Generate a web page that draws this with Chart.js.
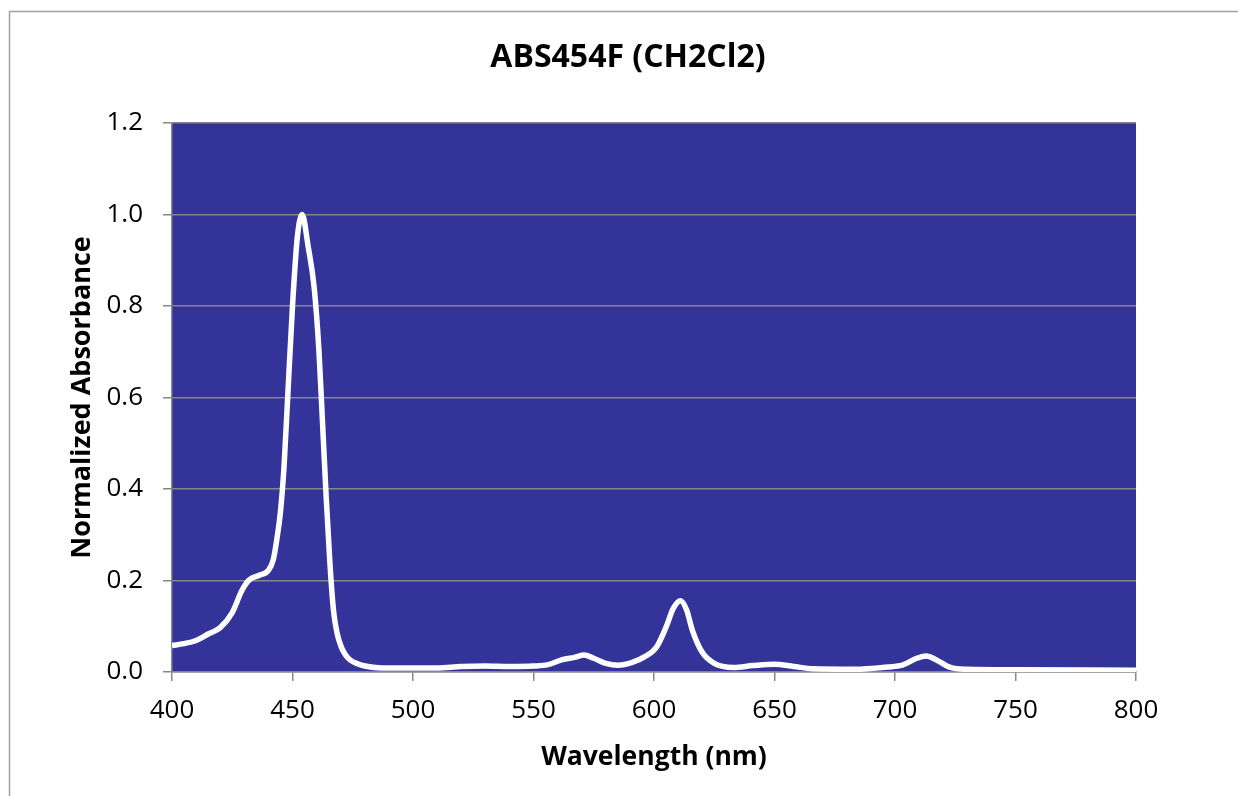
<!DOCTYPE html>
<html>
<head>
<meta charset="utf-8">
<script src="https://cdn.jsdelivr.net/npm/chart.js@4.4.1/dist/chart.umd.min.js"></script>
<style>
  html, body { margin: 0; padding: 0; background: #ffffff; }
  #wrap { position: relative; width: 1238px; height: 796px; }
</style>
</head>
<body>
<div id="wrap"><canvas id="chart"></canvas></div>
<script>
// Spectrum
const wavelengths = [400, 405, 410, 415, 420, 425, 429, 432, 436, 440, 442, 443.5, 445, 446.5, 448, 450, 452, 454,
  456.5, 459, 461, 462.5, 464, 465.5, 467, 468.5, 470, 472, 474, 477, 480, 487, 500, 510, 520, 530, 540, 550, 556, 562,
  567, 571, 575, 580, 585, 591, 596, 601, 605, 608, 611, 613.5, 616, 620, 625, 633, 641, 650, 658, 666,
  683, 697, 703, 709, 713, 717, 723, 730, 750, 800];
const absorbance = [0.058, 0.062, 0.069, 0.083, 0.097, 0.130, 0.178, 0.201, 0.211, 0.222, 0.245, 0.29, 0.35, 0.45, 0.60, 0.80, 0.95, 1.0,
  0.93, 0.84, 0.70, 0.54, 0.38, 0.24, 0.135, 0.085, 0.058, 0.037, 0.026, 0.018, 0.013, 0.009, 0.009, 0.009, 0.012, 0.013, 0.012, 0.013, 0.016, 0.027,
  0.032, 0.037, 0.030, 0.019, 0.015, 0.021, 0.033, 0.054, 0.098, 0.139, 0.156, 0.136, 0.09, 0.043, 0.019, 0.010, 0.014, 0.017, 0.012, 0.007,
  0.006, 0.011, 0.015, 0.030, 0.035, 0.027, 0.010, 0.006, 0.005, 0.004];

const xTicks = [400, 450, 500, 550, 600, 650, 700, 750, 800];
const yTicks = [0, 0.2, 0.4, 0.6, 0.8, 1.0, 1.2];

const chartTitle = 'ABS454F (CH2Cl2)';
const xTitle = 'Wavelength (nm)';
const yTitle = 'Normalized Absorbance';

const FONT = "'Open Sans', 'DejaVu Sans', sans-serif";
const GRID = '#878787';

// plot background, outer frame and chart title
const framePlugin = {
  id: 'frame',
  beforeDraw(chart) {
    const { ctx, chartArea } = chart;
    ctx.save();
    ctx.fillStyle = '#ffffff';
    ctx.fillRect(0, 0, chart.width, chart.height);
    ctx.fillStyle = '#333399';
    ctx.fillRect(chartArea.left, chartArea.top, chartArea.right - chartArea.left, chartArea.bottom - chartArea.top);
    ctx.strokeStyle = '#a0a0a0';
    ctx.lineWidth = 1.5;
    ctx.beginPath();
    ctx.moveTo(9.5, chart.height);
    ctx.lineTo(9.5, 11.5);
    ctx.lineTo(chart.width, 11.5);
    ctx.stroke();
    ctx.fillStyle = '#000000';
    ctx.font = "bold 32px " + FONT;
    ctx.textAlign = 'center';
    ctx.textBaseline = 'middle';
    ctx.fillText(chartTitle, 628, 58);
    ctx.restore();
  }
};

const ctx = document.getElementById('chart').getContext('2d');
new Chart(ctx, {
  type: 'line',
  data: {
    datasets: [{
      data: wavelengths.map((w, i) => ({ x: w, y: absorbance[i] })),
      borderColor: '#ffffff',
      borderWidth: 5.5,
      pointRadius: 0,
      fill: false,
      cubicInterpolationMode: 'monotone'
    }]
  },
  options: {
    responsive: true,
    maintainAspectRatio: false,
    animation: false,
    layout: {
      padding: { top: 123, right: 102, bottom: 0, left: 0 }
    },
    plugins: {
      legend: { display: false },
      tooltip: { enabled: false }
    },
    scales: {
      x: {
        type: 'linear',
        min: 400,
        max: 800,
        afterBuildTicks(scale) { scale.ticks = xTicks.map(v => ({ value: v })); },
        afterFit(scale) { scale.height = 124; },
        ticks: {
          color: '#000000',
          font: { family: FONT, size: 26 },
          padding: 14,
          maxRotation: 0,
          autoSkip: false
        },
        grid: {
          drawOnChartArea: false,
          drawTicks: true,
          tickLength: 9,
          color: GRID,
          lineWidth: 1.5
        },
        border: { display: true, color: GRID, width: 1.5 },
        title: {
          display: true,
          text: xTitle,
          color: '#000000',
          font: { family: FONT, size: 26.5, weight: 'bold' },
          padding: { top: 0, bottom: 23 }
        }
      },
      y: {
        type: 'linear',
        min: 0,
        max: 1.2,
        afterBuildTicks(scale) { scale.ticks = yTicks.map(v => ({ value: v })); },
        afterFit(scale) { scale.width = 172; },
        ticks: {
          color: '#000000',
          font: { family: FONT, size: 26 },
          padding: 20,
          callback: v => Number(v).toFixed(1)
        },
        grid: {
          drawOnChartArea: true,
          drawTicks: true,
          tickLength: 9,
          color: GRID,
          lineWidth: 1.5
        },
        border: { display: true, color: GRID, width: 1.5 },
        title: {
          display: true,
          text: yTitle,
          color: '#000000',
          font: { family: FONT, size: 27, weight: 'bold' },
          padding: { top: 66, bottom: 0 }
        }
      }
    }
  },
  plugins: [framePlugin]
});
</script>
</body>
</html>
